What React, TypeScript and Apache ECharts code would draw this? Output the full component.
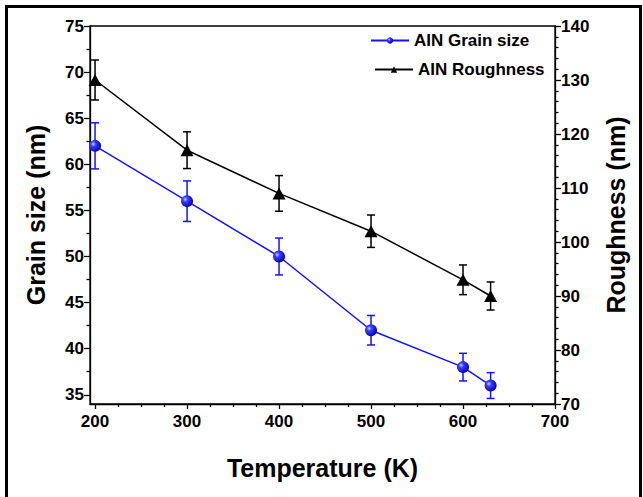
import React, { useEffect, useRef } from "react";
import * as echarts from "echarts";

const temps = [200, 300, 400, 500, 600, 630];
const grain = [62, 56, 50, 42, 38, 36];
const grainErr = [2.5, 2.2, 2.0, 1.6, 1.5, 1.4];
const rough = [130, 117, 109, 102, 93, 90];
const roughErr = [3.7, 3.4, 3.3, 3.0, 2.75, 2.6];

const xMajor = [200, 300, 400, 500, 600, 700];
const xMinor = [225, 250, 275, 325, 350, 375, 425, 450, 475, 525, 550, 575, 625, 650, 675];
const leftMajor = [35, 40, 45, 50, 55, 60, 65, 70, 75];
const leftMinor = [37.5, 42.5, 47.5, 52.5, 57.5, 62.5, 67.5, 72.5];
const rightMajor = [70, 80, 90, 100, 110, 120, 130, 140];
const rightMinor = [72, 74, 76, 78, 82, 84, 86, 88, 92, 94, 96, 98, 102, 104, 106, 108, 112, 114, 116, 118, 122, 124, 126, 128, 132, 134, 136, 138];

const FONT = "Liberation Sans, Arial, sans-serif";
const BLUE = "#1414ff";

export default function App() {
  const ref = useRef<HTMLDivElement>(null);
  useEffect(() => {
    document.body.style.margin = "0";
    const chart = echarts.init(ref.current!, null, { renderer: "svg" });
    const axisLine = { show: true, lineStyle: { color: "#000", width: 1.3 } };
    const labelStyle = { color: "#000", fontFamily: FONT, fontWeight: "bold", fontSize: 17 };
    const titleStyle = { color: "#000", fontFamily: FONT, fontWeight: "bold", fontSize: 25 };
    const sphere = new echarts.graphic.RadialGradient(0.35, 0.35, 0.7, [
      { offset: 0, color: "#c8ccff" },
      { offset: 0.3, color: "#3c3cff" },
      { offset: 1, color: "#0000a8" },
    ]);
    const errRender = (color: string) => (params: any, api: any) => {
      const x = api.value(0);
      const lo = api.coord([x, api.value(1)]);
      const hi = api.coord([x, api.value(2)]);
      const w = 4;
      const style = { stroke: color, lineWidth: 1.5, fill: "none" };
      return {
        type: "group",
        children: [
          { type: "line", shape: { x1: lo[0], y1: lo[1], x2: hi[0], y2: hi[1] }, style },
          { type: "line", shape: { x1: lo[0] - w, y1: lo[1], x2: lo[0] + w, y2: lo[1] }, style },
          { type: "line", shape: { x1: hi[0] - w, y1: hi[1], x2: hi[0] + w, y2: hi[1] }, style },
        ],
      };
    };
    const grid = { left: 90, right: 88, top: 26, bottom: 93 };
    chart.setOption({
      animation: false,
      backgroundColor: "#fff",
      grid: { ...grid, show: true, borderColor: "#000", borderWidth: 1.3, backgroundColor: "transparent" },
      legend: [
        {
          data: ["AIN Grain size"], left: 370, top: 32, itemWidth: 38, itemHeight: 8, padding: 0,
          textStyle: { ...labelStyle, fontSize: 17 },
        },
        {
          data: ["AIN Roughness"], left: 374, top: 61, itemWidth: 38, itemHeight: 8, padding: 0,
          textStyle: { ...labelStyle, fontSize: 17 },
        },
      ],
      xAxis: [
        {
          type: "value", min: 194.5, max: 700, position: "bottom",
          axisLine, splitLine: { show: false },
          axisTick: { show: true, customValues: xMajor, length: 5, lineStyle: { color: "#000", width: 1.3 } },
          axisLabel: { ...labelStyle, customValues: xMajor, margin: 9 },
          name: "Temperature (K)", nameLocation: "middle", nameGap: 51,
          nameTextStyle: titleStyle,
        },
        {
          type: "value", min: 194.5, max: 700, position: "bottom",
          axisLine: { show: false }, splitLine: { show: false }, axisLabel: { show: false },
          axisTick: { show: true, customValues: xMinor, length: 3, lineStyle: { color: "#000", width: 1.3 } },
        },
      ],
      yAxis: [
        {
          type: "value", min: 34, max: 75, position: "left",
          axisLine, splitLine: { show: false },
          axisTick: { show: true, customValues: leftMajor, length: 6, lineStyle: { color: "#000", width: 1.3 } },
          axisLabel: { ...labelStyle, customValues: leftMajor, margin: 6 },
          name: "Grain size (nm)", nameLocation: "middle", nameGap: 42, nameRotate: 90,
          nameTextStyle: titleStyle,
        },
        {
          type: "value", min: 70, max: 140, position: "right",
          axisLine, splitLine: { show: false },
          axisTick: { show: true, customValues: rightMajor, length: 6, lineStyle: { color: "#000", width: 1.3 } },
          axisLabel: { ...labelStyle, customValues: rightMajor, margin: 6 },
          name: "Roughness (nm)", nameLocation: "middle", nameGap: 48, nameRotate: 90,
          nameTextStyle: titleStyle,
        },
        {
          type: "value", min: 34, max: 75, position: "left",
          axisLine: { show: false }, splitLine: { show: false }, axisLabel: { show: false },
          axisTick: { show: true, customValues: leftMinor, length: 3.5, lineStyle: { color: "#000", width: 1.3 } },
        },
        {
          type: "value", min: 70, max: 140, position: "right",
          axisLine: { show: false }, splitLine: { show: false }, axisLabel: { show: false },
          axisTick: { show: true, customValues: rightMinor, length: 3.5, lineStyle: { color: "#000", width: 1.3 } },
        },
      ],
      graphic: [
        {
          type: "rect", shape: { x: 6.5, y: 6.5, width: 634, height: 500 },
          style: { fill: "none", stroke: "#000", lineWidth: 3 }, silent: true,
        },
      ],
      series: [
        {
          type: "custom", name: "grainErr", xAxisIndex: 0, yAxisIndex: 0, z: 1,
          renderItem: errRender(BLUE),
          data: temps.map((t, i) => [t, grain[i] - grainErr[i], grain[i] + grainErr[i]]),
        },
        {
          type: "custom", name: "roughErr", xAxisIndex: 0, yAxisIndex: 1, z: 1,
          renderItem: errRender("#000"),
          data: temps.map((t, i) => [t, rough[i] - roughErr[i], rough[i] + roughErr[i]]),
        },
        {
          type: "line", name: "AIN Grain size", xAxisIndex: 0, yAxisIndex: 0, z: 3,
          data: temps.map((t, i) => [t, grain[i]]),
          symbol: "circle", symbolSize: 12,
          lineStyle: { color: BLUE, width: 1.5 },
          itemStyle: { color: sphere, borderWidth: 0 },
        },
        {
          type: "line", name: "AIN Roughness", xAxisIndex: 0, yAxisIndex: 1, z: 3,
          data: temps.map((t, i) => [t, rough[i]]),
          symbol: "triangle", symbolSize: [13, 12],
          lineStyle: { color: "#000", width: 1.5 },
          itemStyle: { color: "#000", borderWidth: 0 },
        },
      ],
    });
    return () => chart.dispose();
  }, []);
  return <div ref={ref} style={{ width: 643, height: 497 }} />;
}
